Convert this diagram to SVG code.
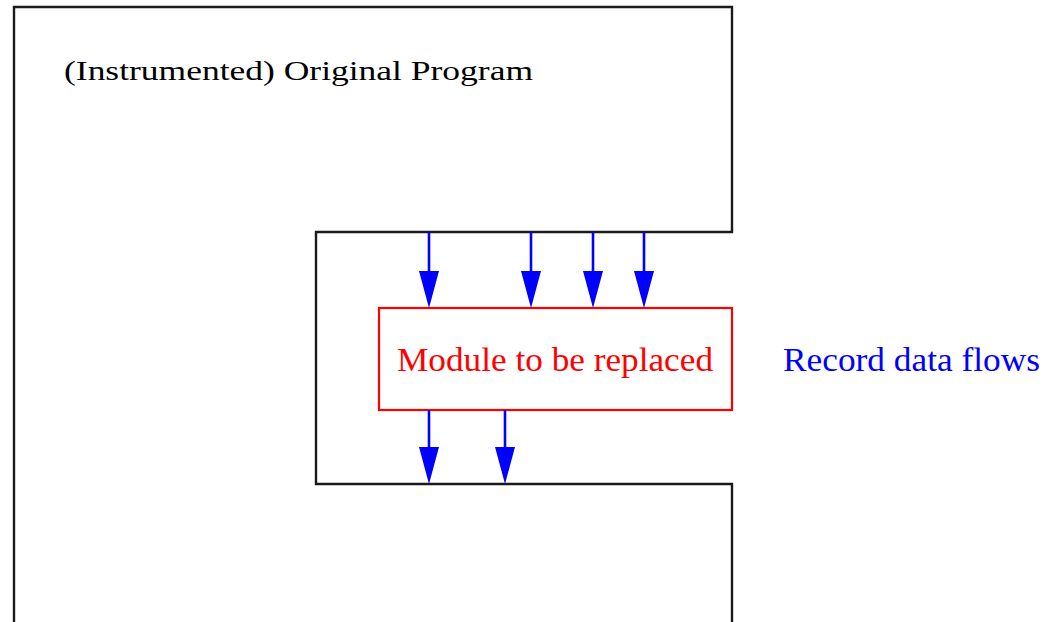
<svg xmlns="http://www.w3.org/2000/svg" width="1043" height="622" viewBox="0 0 1043 622">
  <style>
    .outline { fill: none; stroke: #1a1a1a; stroke-width: 2.4; }
    .flow { stroke: #0000ff; stroke-width: 2.6; fill: none; }
    .head { fill: #0000ff; }
    .label { font-family: "Liberation Serif", "Times New Roman", serif; }
  </style>
  <defs>
    <!-- narrow, long arrowhead; tip sits at the origin pointing down -->
    <polygon id="ah" class="head" points="-10,-37 10,-37 0,0"/>
  </defs>
  <rect width="1043" height="622" fill="#ffffff"/>

  <!-- host program: outline with a notch cut in on the right -->
  <g id="program">
    <path class="outline" d="M14,626 L14,7 L732,7 L732,232 L316,232 L316,484 L732,484 L732,626"/>
    <text class="label" x="64" y="80" font-size="27" textLength="469" lengthAdjust="spacingAndGlyphs" fill="#000000">(Instrumented) Original Program</text>
  </g>

  <!-- module sitting inside the notch -->
  <g id="module">
    <rect x="379" y="308" width="353" height="102" fill="none" stroke="#ff0000" stroke-width="2.2"/>
    <text class="label" x="397" y="371" font-size="34" textLength="316" lengthAdjust="spacingAndGlyphs" fill="#ff0000">Module to be replaced</text>
  </g>

  <g id="caption">
    <text class="label" x="783" y="371" font-size="34" textLength="257" lengthAdjust="spacingAndGlyphs" fill="#0000ff">Record data flows</text>
  </g>

  <!-- data flows into and out of the module -->
  <g id="connectors">
    <line class="flow" x1="429" y1="232" x2="429" y2="275"/>
    <use href="#ah" x="429" y="308"/>
    <line class="flow" x1="531" y1="232" x2="531" y2="275"/>
    <use href="#ah" x="531" y="308"/>
    <line class="flow" x1="593" y1="232" x2="593" y2="275"/>
    <use href="#ah" x="593" y="308"/>
    <line class="flow" x1="644" y1="232" x2="644" y2="275"/>
    <use href="#ah" x="644" y="308"/>

    <line class="flow" x1="429" y1="410" x2="429" y2="450"/>
    <use href="#ah" x="429" y="484"/>
    <line class="flow" x1="505" y1="410" x2="505" y2="450"/>
    <use href="#ah" x="505" y="484"/>
  </g>
</svg>
